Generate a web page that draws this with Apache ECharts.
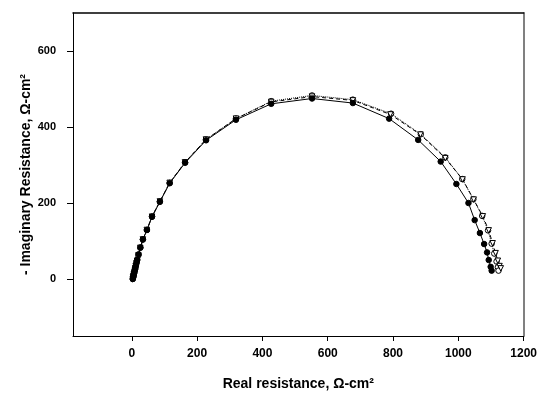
<!DOCTYPE html>
<html>
<head>
<meta charset="utf-8">
<script src="https://cdn.jsdelivr.net/npm/echarts@6/dist/echarts.min.js"></script>
<style>html,body{margin:0;padding:0;background:#fff}#c{width:540px;height:396px}</style>
</head>
<body>
<div id="c"></div>
<script>
// Tick labels
var xTicks = [0, 200, 400, 600, 800, 1000, 1200];
var yTicks = [0, 200, 400, 600];

// Series A: filled circles, solid line
var aX = [3,4,5,6,7,8,10,11,13,15,17,21,26.5,34,46.6,62,86,116,163.5,227.5,319,427,552,677,788,877,946,994,1031,1050,1066,1079,1088,1093,1099,1102];
var aY = [0,3,7,11,15,20,25,31,37,44,51,65,83,104,129,164,203,252,306,365,419,461,475,463,422,366,309,250,200,155,121,92,70,50,32,22];

// Series B: open circles, dotted line
var bX = [3,4,5,6,8,9,11,12,14,16,20,26,34,46,62,86,116,163,227,319,427,552,677,794,885,960,1012,1046,1073,1091,1102,1110,1117,1121,1123];
var bY = [0,4,8,12,17,22,28,34,41,48,62,82,104,129,164,204,253,307,367,422,468,483,472,435,381,320,263,210,166,128,93,67,46,31,22];

// Series C: open triangles, dashed line
var cX = [3,4,5,6,8,9,11,12,14,16,20,26,34,46,62,86,116,163,227,319,427,552,677,792,884,960,1013,1047,1075,1093,1105,1114,1121,1126,1130];
var cY = [0,4,8,12,17,22,28,34,41,48,62,82,104,129,164,204,253,307,367,422,466,480,470,433,380,318,262,209,165,128,94,68,48,34,28];

function pairs(xs, ys) { return xs.map(function (x, i) { return [x, ys[i]]; }); }
function plain(v) { return String(v); }

var chart = echarts.init(document.getElementById('c'), null, {renderer: 'canvas'});
var font = 'Liberation Sans, Arial, sans-serif';
chart.setOption({
  animation: false,
  backgroundColor: '#fff',
  grid: {left: 73, right: 14, top: 13, bottom: 57, containLabel: false},
  xAxis: [{
    type: 'value', min: -180, max: 1200, position: 'bottom',
    name: 'Real resistance, Ω-cm²', nameLocation: 'middle', nameGap: 41, nameMoveOverlap: false,
    nameTextStyle: {fontFamily: font, fontWeight: 'bold', fontSize: 14, color: '#000'},
    axisLine: {show: true, onZero: false, lineStyle: {color: '#000', width: 1}},
    axisTick: {show: true, inside: false, length: 5, customValues: xTicks, lineStyle: {color: '#000'}},
    axisLabel: {customValues: xTicks, formatter: plain, margin: 12, fontFamily: font, fontWeight: 'bold', fontSize: 12, color: '#000'},
    splitLine: {show: false}
  }, {
    type: 'value', min: -180, max: 1200, position: 'top',
    axisLine: {show: true, onZero: false, lineStyle: {color: '#000', width: 1.5}},
    axisTick: {show: false}, axisLabel: {show: false}, splitLine: {show: false}
  }],
  yAxis: [{
    type: 'value', min: -150, max: 700, position: 'left',
    name: '- Imaginary Resistance, Ω-cm²', nameLocation: 'middle', nameGap: 40, nameRotate: 90, nameMoveOverlap: false,
    nameTextStyle: {fontFamily: font, fontWeight: 'bold', fontSize: 14, color: '#000'},
    axisLine: {show: true, onZero: false, lineStyle: {color: '#000', width: 1}},
    axisTick: {show: true, inside: false, length: 6, customValues: yTicks, lineStyle: {color: '#000'}},
    axisLabel: {customValues: yTicks, formatter: plain, margin: 17, fontFamily: font, fontWeight: 'bold', fontSize: 11, color: '#000'},
    splitLine: {show: false}
  }, {
    type: 'value', min: -150, max: 700, position: 'right',
    axisLine: {show: true, onZero: false, lineStyle: {color: '#808080', width: 2}},
    axisTick: {show: false}, axisLabel: {show: false}, splitLine: {show: false}
  }],
  series: [{
    type: 'line', data: pairs(bX, bY), symbol: 'circle', symbolSize: 5.5,
    itemStyle: {color: '#fff', borderColor: '#000', borderWidth: 1},
    lineStyle: {color: '#000', width: 1, type: 'dotted'}, z: 2
  }, {
    type: 'line', data: pairs(cX, cY), symbol: 'triangle', symbolSize: 5.5, symbolRotate: 180,
    itemStyle: {color: '#fff', borderColor: '#000', borderWidth: 1},
    lineStyle: {color: '#000', width: 1, type: [4, 3]}, z: 3
  }, {
    type: 'line', data: pairs(aX, aY), symbol: 'circle', symbolSize: 5.5,
    itemStyle: {color: '#000', borderColor: '#000', borderWidth: 1},
    lineStyle: {color: '#000', width: 1, type: 'solid'}, z: 4
  }]
});
</script>
</body>
</html>
